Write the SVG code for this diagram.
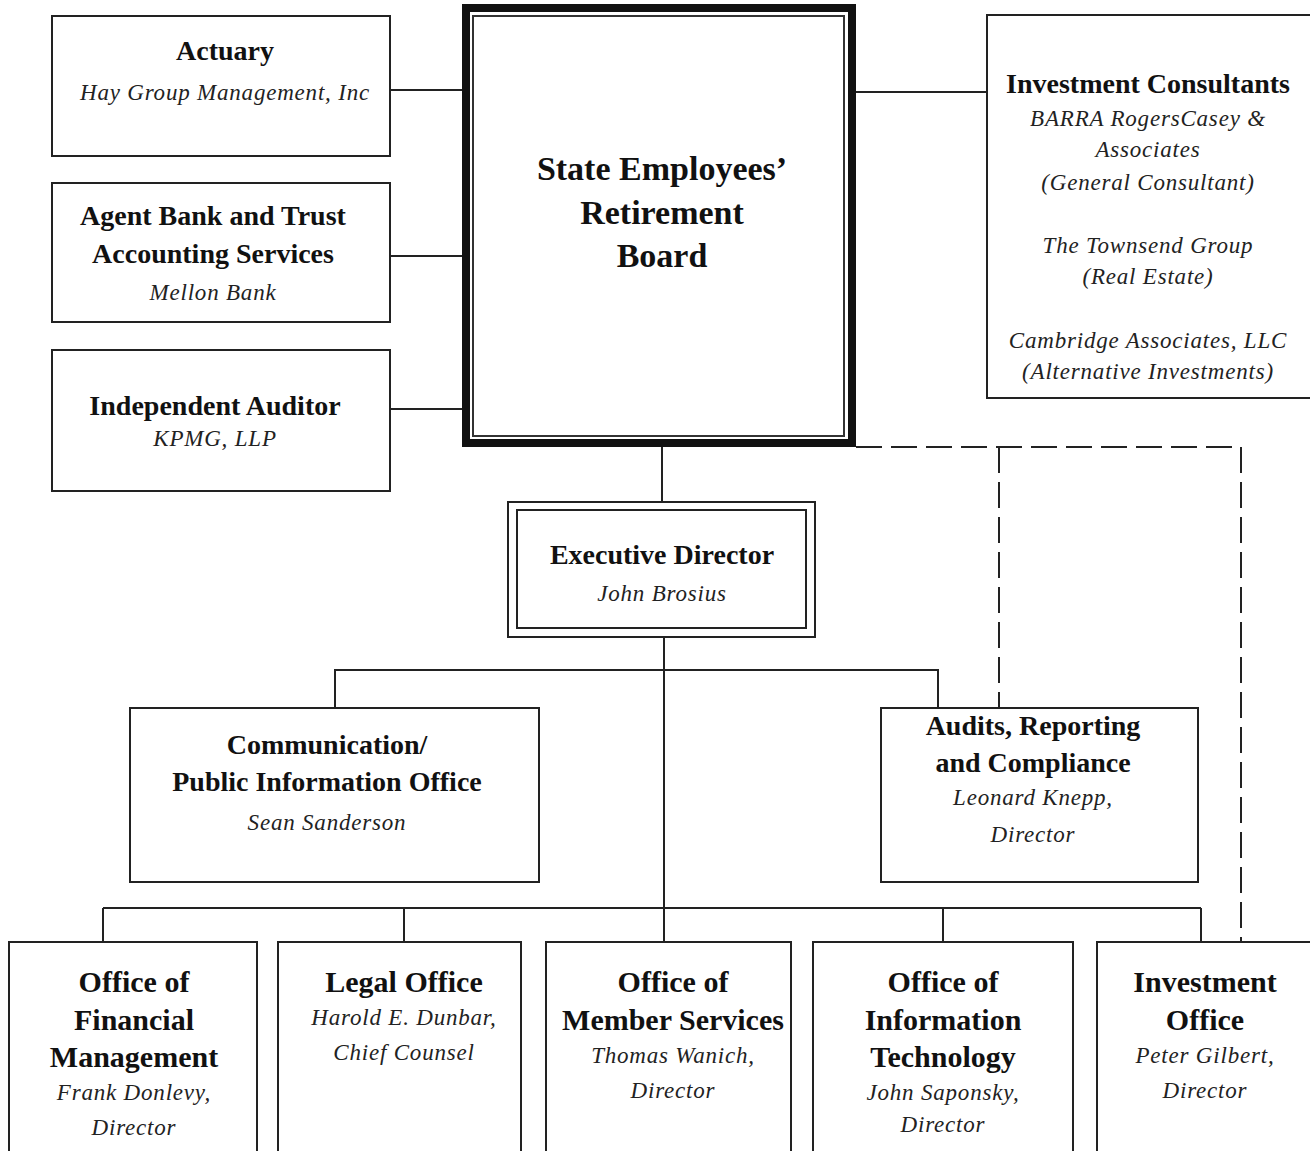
<svg xmlns="http://www.w3.org/2000/svg" width="1310" height="1151" viewBox="0 0 1310 1151">
<style>
.box{fill:#fff;stroke:#222;stroke-width:2}
.ln{stroke:#222;stroke-width:2;fill:none}
.dash{stroke:#222;stroke-width:2;fill:none;stroke-dasharray:26 9}
.t{font-family:"Liberation Serif","Times New Roman",serif;font-weight:bold;font-size:28px;fill:#111;text-anchor:middle}
.tb{font-size:30px}
.big{font-size:34px}
.n{font-family:"Liberation Serif","Times New Roman",serif;font-style:italic;font-size:23px;letter-spacing:0.8px;fill:#222;text-anchor:middle}
</style>
<rect width="1310" height="1151" fill="#fff"/>
<g id="connectors">
<line class="ln" x1="390" y1="90" x2="462" y2="90"/>
<line class="ln" x1="390" y1="256" x2="462" y2="256"/>
<line class="ln" x1="390" y1="409" x2="462" y2="409"/>
<line class="ln" x1="856" y1="92" x2="987" y2="92"/>
<line class="ln" x1="662" y1="447" x2="662" y2="502"/>
<line class="ln" x1="664" y1="637" x2="664" y2="942"/>
<polyline class="ln" points="335,708 335,670 938,670 938,708"/>
<line class="ln" x1="103" y1="908" x2="1201" y2="908"/>
<line class="ln" x1="103" y1="908" x2="103" y2="942"/>
<line class="ln" x1="404" y1="908" x2="404" y2="942"/>
<line class="ln" x1="943" y1="908" x2="943" y2="942"/>
<line class="ln" x1="1201" y1="908" x2="1201" y2="942"/>
<polyline class="dash" points="856,447 1241,447 1241,942"/>
<line class="dash" x1="999" y1="447" x2="999" y2="708"/>
</g>
<g id="actuary">
<rect class="box" x="52" y="16" width="338" height="140"/>
<text class="t" x="225" y="60">Actuary</text>
<text class="n" x="225" y="100">Hay Group Management, Inc</text>
</g>
<g id="agent-bank">
<rect class="box" x="52" y="183" width="338" height="139"/>
<text class="t" x="213" y="225">Agent Bank and Trust</text>
<text class="t" x="213" y="263">Accounting Services</text>
<text class="n" x="213" y="300">Mellon Bank</text>
</g>
<g id="auditor">
<rect class="box" x="52" y="350" width="338" height="141"/>
<text class="t" x="215" y="415">Independent Auditor</text>
<text class="n" x="215" y="446">KPMG, LLP</text>
</g>
<g id="board">
<rect x="466" y="8" width="386" height="435" fill="#fff" stroke="#111" stroke-width="8"/>
<rect x="473" y="16" width="371" height="420" fill="none" stroke="#333" stroke-width="2"/>
<text class="t big" x="662" y="180">State Employees’</text>
<text class="t big" x="662" y="224">Retirement</text>
<text class="t big" x="662" y="267">Board</text>
</g>
<g id="investment-consultants">
<rect class="box" x="987" y="15" width="340" height="383"/>
<text class="t" x="1148" y="93">Investment Consultants</text>
<text class="n" x="1148" y="126">BARRA RogersCasey &amp;</text>
<text class="n" x="1148" y="157">Associates</text>
<text class="n" x="1148" y="190">(General Consultant)</text>
<text class="n" x="1148" y="253">The Townsend Group</text>
<text class="n" x="1148" y="284">(Real Estate)</text>
<text class="n" x="1148" y="348">Cambridge Associates, LLC</text>
<text class="n" x="1148" y="379">(Alternative Investments)</text>
</g>
<g id="executive-director">
<rect class="box" x="508" y="502" width="307" height="135"/>
<rect class="box" x="517" y="510" width="289" height="118"/>
<text class="t" x="662" y="564">Executive Director</text>
<text class="n" x="662" y="601">John Brosius</text>
</g>
<g id="communication">
<rect class="box" x="130" y="708" width="409" height="174"/>
<text class="t" x="327" y="754">Communication/</text>
<text class="t" x="327" y="791">Public Information Office</text>
<text class="n" x="327" y="830">Sean Sanderson</text>
</g>
<g id="audits">
<rect class="box" x="881" y="708" width="317" height="174"/>
<text class="t" x="1033" y="735">Audits, Reporting</text>
<text class="t" x="1033" y="772">and Compliance</text>
<text class="n" x="1033" y="805">Leonard Knepp,</text>
<text class="n" x="1033" y="842">Director</text>
</g>
<g id="financial-management">
<rect class="box" x="9" y="942" width="248" height="230"/>
<text class="t tb" x="134" y="992">Office of</text>
<text class="t tb" x="134" y="1030">Financial</text>
<text class="t tb" x="134" y="1067">Management</text>
<text class="n" x="134" y="1100">Frank Donlevy,</text>
<text class="n" x="134" y="1135">Director</text>
</g>
<g id="legal-office">
<rect class="box" x="278" y="942" width="243" height="230"/>
<text class="t tb" x="404" y="992">Legal Office</text>
<text class="n" x="404" y="1025">Harold E. Dunbar,</text>
<text class="n" x="404" y="1060">Chief Counsel</text>
</g>
<g id="member-services">
<rect class="box" x="546" y="942" width="245" height="230"/>
<text class="t tb" x="673" y="992">Office of</text>
<text class="t tb" x="673" y="1030">Member Services</text>
<text class="n" x="673" y="1063">Thomas Wanich,</text>
<text class="n" x="673" y="1098">Director</text>
</g>
<g id="information-technology">
<rect class="box" x="813" y="942" width="260" height="230"/>
<text class="t tb" x="943" y="992">Office of</text>
<text class="t tb" x="943" y="1030">Information</text>
<text class="t tb" x="943" y="1067">Technology</text>
<text class="n" x="943" y="1100">John Saponsky,</text>
<text class="n" x="943" y="1132">Director</text>
</g>
<g id="investment-office">
<rect class="box" x="1097" y="942" width="240" height="230"/>
<text class="t tb" x="1205" y="992">Investment</text>
<text class="t tb" x="1205" y="1030">Office</text>
<text class="n" x="1205" y="1063">Peter Gilbert,</text>
<text class="n" x="1205" y="1098">Director</text>
</g>
</svg>
